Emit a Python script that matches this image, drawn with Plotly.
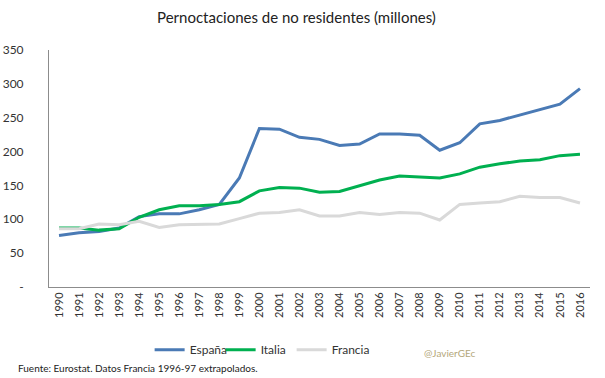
import plotly.graph_objects as go

years = [str(y) for y in range(1990, 2017)]
espana = [76, 80, 82, 87, 104, 108, 108, 114, 122, 161, 234, 233, 221, 218, 209, 211,
          226, 226, 224, 202, 213, 241, 246, 254, 262, 270, 293]
italia = [87, 87, 84, 86, 103, 114, 120, 120, 122, 126, 142, 147, 146, 140, 141, 149,
          158, 164, 163, 161, 167, 177, 182, 186, 188, 194, 196]
francia = [86, 86, 93, 92, 97, 88, 92, 92, 93, 101, 109, 110, 114, 105, 105, 110,
           107, 110, 109, 99, 122, 124, 126, 134, 132, 132, 124]
y_ticks = [0, 50, 100, 150, 200, 250, 300, 350]
y_tick_text = ["-", "50", "100", "150", "200", "250", "300", "350"]

FONT = "Lato, 'Noto Sans', sans-serif"

fig = go.Figure()
for name, vals, col in [("España", espana, "#4a7ab5"),
                        ("Italia", italia, "#00b050"),
                        ("Francia", francia, "#d9d9d9")]:
    fig.add_trace(go.Scatter(x=years, y=vals, name=name, mode="lines",
                             line=dict(color=col, width=3)))
# invisible spacer entry so the last legend label is not clipped
fig.add_trace(go.Scatter(x=[years[0]], y=[None], name=" ", mode="lines",
                         line=dict(color="rgba(0,0,0,0)", width=0), hoverinfo="skip"))

fig.update_layout(
    width=605, height=378,
    margin=dict(l=49, r=15, t=50, b=91),
    paper_bgcolor="white", plot_bgcolor="white",
    font=dict(family=FONT, color="#333333", size=11),
    title=dict(text="Pernoctaciones de no residentes (millones)", x=0.49, xanchor="center",
               y=0.952, yanchor="middle", font=dict(size=15, color="#222222")),
    showlegend=True,
    legend=dict(orientation="h", x=0.186, xanchor="left", y=-0.265, yanchor="middle",
                font=dict(size=12, color="#333333"), entrywidth=26,
                entrywidthmode="pixels", traceorder="normal", bgcolor="rgba(0,0,0,0)"),
    xaxis=dict(type="category", range=[-0.5, 26.5], showgrid=False, showline=True,
               linecolor="#8c8c8c", linewidth=1, ticks="", tickangle=-90,
               tickfont=dict(size=11, color="#333333"), automargin=False),
    yaxis=dict(range=[0, 350], tickvals=y_ticks, ticktext=y_tick_text, showgrid=False,
               showline=True, linecolor="#8c8c8c", linewidth=1, ticks="",
               ticklabelstandoff=22, zeroline=False, automargin=False,
               tickfont=dict(size=12, color="#333333")),
    annotations=[
        dict(text="Fuente: Eurostat. Datos Francia 1996-97 extrapolados.", xref="paper",
             yref="paper", x=-0.061, xanchor="left", y=-0.342, yanchor="middle",
             showarrow=False, font=dict(size=10, color="#222222")),
        dict(text="@JavierGEc", xref="paper", yref="paper", x=0.689, xanchor="left",
             y=-0.28, yanchor="middle", showarrow=False,
             font=dict(size=10, color="#b4a77a")),
    ],
)

fig.write_html("out.html", config={"displayModeBar": False},
               post_script="document.body.style.margin='0';document.body.style.overflow='hidden';")
